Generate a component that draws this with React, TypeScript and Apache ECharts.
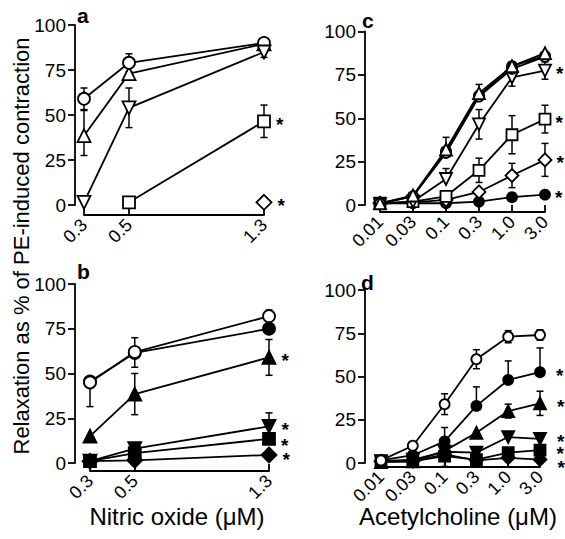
import React, { useEffect, useRef } from 'react';
import * as echarts from 'echarts';

const FONT = '"Liberation Sans", Arial, Helvetica, sans-serif';

// ---------- x categories ----------
const noLabels = ['0.3', '0.5', '1.3'];
const noPositions = [0, 1, 4]; // spacing of the concentrations on the original axis
const achLabels = ['0.01', '0.03', '0.1', '0.3', '1.0', '3.0'];
const achPositions = [0, 1, 2, 3, 4, 5];
const yTickValues = [0, 25, 50, 75, 100];

// ---------- panel a (nitric oxide) ----------
const aOpenCircle = [59, 79, 90];
const aOpenCircleUp = [6, 5, 0];
const aOpenCircleDn = [6, 5, 0];
const aOpenTri = [38.5, 73, 89.5];
const aOpenTriUp = [14, 0, 0];
const aOpenTriDn = [11, 0, 0];
const aOpenInvTri = [1.5, 54, 85];
const aOpenInvTriUp = [0, 11, 3];
const aOpenInvTriDn = [0, 11, 3];
const aOpenSquare = [null, 1.5, 46.5];
const aOpenSquareUp = [0, 0, 9];
const aOpenSquareDn = [0, 0, 9];
const aOpenDiamond = [null, null, 1.5];

// ---------- panel b (nitric oxide) ----------
const bOpenCircle = [45, 62, 82];
const bOpenCircleUp = [0, 8, 3.5];
const bOpenCircleDn = [13.5, 0, 0];
const bFilledCircle = [45.5, 61.5, 75];
const bFilledCircleUp = [0, 0, 0];
const bFilledCircleDn = [0, 8, 0];
const bFilledTri = [15, 38.5, 59];
const bFilledTriUp = [0, 11.5, 10];
const bFilledTriDn = [0, 11.5, 10];
const bFilledInvTri = [1, 8, 20.5];
const bFilledInvTriUp = [0, 0, 7.5];
const bFilledSquare = [1, 5.5, 13.5];
const bFilledDiamond = [1, 1.5, 4.5];

// ---------- panel c (acetylcholine) ----------
const cFilledCircleTop = [1, 5, 31, 63, 80, 86];
const cOpenCircle = [1, 5, 30, 62.5, 78.5, 85.5];
const cOpenCircleUp = [0, 0, 9, 7, 4, 0];
const cOpenTri = [1, 5.5, 32, 64.5, 80, 87.5];
const cOpenInvTri = [0.5, 2, 15, 46.5, 73.5, 77.5];
const cOpenInvTriUp = [0, 0, 6, 8.5, 5, 5];
const cOpenInvTriDn = [0, 0, 0, 8.5, 5, 5];
const cOpenSquare = [1, 2, 5, 20, 40.5, 49.5];
const cOpenSquareUp = [0, 0, 0, 7, 11, 8];
const cOpenSquareDn = [0, 0, 0, 7, 11, 8];
const cOpenDiamond = [1, 1.5, 3, 7.5, 17, 26];
const cOpenDiamondUp = [0, 0, 0, 0, 7, 9.5];
const cOpenDiamondDn = [0, 0, 0, 0, 7, 9.5];
const cFilledCircleLow = [1, 1, 1, 2, 4.5, 6];

// ---------- panel d (acetylcholine) ----------
const dOpenCircle = [1.5, 10, 34, 60, 73, 74];
const dOpenCircleUp = [0, 0, 6, 5.5, 3.5, 3];
const dOpenCircleDn = [0, 0, 6, 5.5, 3.5, 3];
const dFilledCircle = [1.5, 4.5, 12.5, 33, 48, 52.5];
const dFilledCircleUp = [0, 0, 8, 11, 11, 14];
const dFilledTri = [0.5, 1, 7, 17.5, 30, 34.5];
const dFilledTriUp = [0, 0, 0, 0, 4, 7];
const dFilledTriDn = [0, 0, 0, 0, 4, 7];
const dFilledInvTri = [1, 2, 6.5, 6, 15, 14];
const dFilledSquare = [1, 1, 4, 2, 6, 7.5];
const dFilledSquareDn = [0, 0, 0, 0, 4, 0];
const dFilledDiamond = [1, 1, 5, 1.5, 3, 2];
const dFilledDiamondDn = [0, 0, 7, 0, 0, 0];

type Sym = 'circle' | 'triangle' | 'invtri' | 'rect' | 'diamond';
interface SeriesDef {
  name: string;
  symbol: Sym;
  filled: boolean;
  values: (number | null)[];
  up?: number[];
  dn?: number[];
  star?: boolean;
  starDy?: number;
}

const panelA: SeriesDef[] = [
  { name: 'a-square', symbol: 'rect', filled: false, values: aOpenSquare, up: aOpenSquareUp, dn: aOpenSquareDn, star: true },
  { name: 'a-diamond', symbol: 'diamond', filled: false, values: aOpenDiamond, star: true },
  { name: 'a-tri', symbol: 'triangle', filled: false, values: aOpenTri, up: aOpenTriUp, dn: aOpenTriDn },
  { name: 'a-circle', symbol: 'circle', filled: false, values: aOpenCircle, up: aOpenCircleUp, dn: aOpenCircleDn },
  { name: 'a-invtri', symbol: 'invtri', filled: false, values: aOpenInvTri, up: aOpenInvTriUp, dn: aOpenInvTriDn },
];
const panelB: SeriesDef[] = [
  { name: 'b-diamond', symbol: 'diamond', filled: true, values: bFilledDiamond, star: true, starDy: 2 },
  { name: 'b-square', symbol: 'rect', filled: true, values: bFilledSquare, star: true, starDy: 4 },
  { name: 'b-invtri', symbol: 'invtri', filled: true, values: bFilledInvTri, up: bFilledInvTriUp, star: true },
  { name: 'b-tri', symbol: 'triangle', filled: true, values: bFilledTri, up: bFilledTriUp, dn: bFilledTriDn, star: true },
  { name: 'b-fcircle', symbol: 'circle', filled: true, values: bFilledCircle, up: bFilledCircleUp, dn: bFilledCircleDn },
  { name: 'b-circle', symbol: 'circle', filled: false, values: bOpenCircle, up: bOpenCircleUp, dn: bOpenCircleDn },
];
const panelC: SeriesDef[] = [
  { name: 'c-fcircle-low', symbol: 'circle', filled: true, values: cFilledCircleLow, star: true },
  { name: 'c-diamond', symbol: 'diamond', filled: false, values: cOpenDiamond, up: cOpenDiamondUp, dn: cOpenDiamondDn, star: true },
  { name: 'c-square', symbol: 'rect', filled: false, values: cOpenSquare, up: cOpenSquareUp, dn: cOpenSquareDn, star: true },
  { name: 'c-invtri', symbol: 'invtri', filled: false, values: cOpenInvTri, up: cOpenInvTriUp, dn: cOpenInvTriDn, star: true },
  { name: 'c-fcircle-top', symbol: 'circle', filled: true, values: cFilledCircleTop },
  { name: 'c-circle', symbol: 'circle', filled: false, values: cOpenCircle, up: cOpenCircleUp },
  { name: 'c-tri', symbol: 'triangle', filled: false, values: cOpenTri },
];
const panelD: SeriesDef[] = [
  { name: 'd-diamond', symbol: 'diamond', filled: true, values: dFilledDiamond, dn: dFilledDiamondDn, star: true, starDy: 5 },
  { name: 'd-square', symbol: 'rect', filled: true, values: dFilledSquare, dn: dFilledSquareDn, star: true },
  { name: 'd-invtri', symbol: 'invtri', filled: true, values: dFilledInvTri, star: true },
  { name: 'd-tri', symbol: 'triangle', filled: true, values: dFilledTri, up: dFilledTriUp, dn: dFilledTriDn, star: true },
  { name: 'd-fcircle', symbol: 'circle', filled: true, values: dFilledCircle, up: dFilledCircleUp, star: true },
  { name: 'd-circle', symbol: 'circle', filled: false, values: dOpenCircle, up: dOpenCircleUp, dn: dOpenCircleDn },
];

interface PanelLayout {
  left: number; top: number; width: number; height: number;
  yOffset: number; xOffset: number;
  xMax: number; positions: number[]; labels: string[];
  sizes: Record<Sym, number>; starGap: number;
}

const bigSizes: Record<Sym, number> = { circle: 12, triangle: 13, invtri: 13, rect: 12, diamond: 15 };
const smallSizes: Record<Sym, number> = { circle: 10, triangle: 12, invtri: 12, rect: 11, diamond: 13 };

const layouts: PanelLayout[] = [
  { left: 84, top: 25, width: 180, height: 180, yOffset: 9, xOffset: 10, xMax: 4, positions: noPositions, labels: noLabels, sizes: bigSizes, starGap: 5 },
  { left: 90, top: 284, width: 179, height: 179, yOffset: 15, xOffset: 8, xMax: 4, positions: noPositions, labels: noLabels, sizes: bigSizes, starGap: 5 },
  { left: 380, top: 31.5, width: 165, height: 173.5, yOffset: 15, xOffset: 7, xMax: 5, positions: achPositions, labels: achLabels, sizes: smallSizes, starGap: 4 },
  { left: 381, top: 290, width: 159, height: 173, yOffset: 16, xOffset: 4, xMax: 5, positions: achPositions, labels: achLabels, sizes: smallSizes, starGap: 10 },
];
const panels = [panelA, panelB, panelC, panelD];

function buildSeries(p: number) {
  const L = layouts[p];
  const out: any[] = [];
  const errData: number[][] = [];
  panels[p].forEach((s, k) => {
    const pts: any[] = [];
    s.values.forEach((v, i) => {
      if (v === null || v === undefined) return;
      const up = s.up ? s.up[i] : 0;
      const dn = s.dn ? s.dn[i] : 0;
      if (up > 0 || dn > 0) errData.push([L.positions[i], v, up, dn]);
      const isLast = i === s.values.length - 1;
      if (isLast && s.star) {
        pts.push({
          value: [L.positions[i], v],
          label: {
            show: true, formatter: '*', position: 'right', distance: L.starGap,
            offset: [0, 3 + (s.starDy || 0)],
            fontSize: 19, fontWeight: 'bold', lineHeight: 11, color: '#000', fontFamily: FONT,
          },
        });
      } else {
        pts.push([L.positions[i], v]);
      }
    });
    const size = L.sizes[s.symbol];
    out.push({
      type: 'line',
      name: s.name,
      xAxisIndex: p,
      yAxisIndex: p,
      data: pts,
      symbol: s.symbol === 'invtri' ? 'triangle' : s.symbol,
      symbolRotate: s.symbol === 'invtri' ? 180 : 0,
      symbolSize: size,
      showSymbol: true,
      showAllSymbol: true,
      clip: false,
      z: 3 + k,
      lineStyle: { color: '#000', width: 1.8 },
      itemStyle: { color: s.filled ? '#000' : '#fff', borderColor: '#000', borderWidth: 1.8 },
      emphasis: { disabled: true },
      label: { show: false },
    });
  });
  out.unshift({
    type: 'custom',
    xAxisIndex: p,
    yAxisIndex: p,
    data: errData,
    encode: { x: 0, y: 1 },
    clip: false,
    z: 2,
    silent: true,
    renderItem: (params: any, api: any) => {
      const x = api.value(0);
      const y = api.value(1);
      const up = api.value(2);
      const dn = api.value(3);
      const c = api.coord([x, y]);
      const style = { stroke: '#000', lineWidth: 1.5 };
      const children: any[] = [];
      const cap = 3.5;
      if (up > 0) {
        const t = api.coord([x, y + up]);
        children.push({ type: 'line', shape: { x1: c[0], y1: c[1], x2: t[0], y2: t[1] }, style });
        children.push({ type: 'line', shape: { x1: t[0] - cap, y1: t[1], x2: t[0] + cap, y2: t[1] }, style });
      }
      if (dn > 0) {
        const b = api.coord([x, y - dn]);
        children.push({ type: 'line', shape: { x1: c[0], y1: c[1], x2: b[0], y2: b[1] }, style });
        children.push({ type: 'line', shape: { x1: b[0] - cap, y1: b[1], x2: b[0] + cap, y2: b[1] }, style });
      }
      return { type: 'group', children };
    },
  });
  return out;
}

const axisLineStyle = { color: '#000', width: 1.8 };

export default function App() {
  const ref = useRef<HTMLDivElement>(null);
  useEffect(() => {
    if (!ref.current) return;
    const chart = echarts.init(ref.current, undefined, { renderer: 'svg' });
    const grids = layouts.map((L) => ({
      left: L.left, top: L.top, width: L.width, height: L.height,
      containLabel: false, outerBoundsMode: 'none',
    }));
    const xAxes = layouts.map((L, p) => ({
      type: 'value',
      gridIndex: p,
      min: 0,
      max: L.xMax,
      interval: 1,
      offset: L.xOffset,
      axisLine: { show: true, onZero: false, lineStyle: axisLineStyle },
      axisTick: { show: true, inside: true, length: 7, lineStyle: axisLineStyle, customValues: L.positions },
      axisLabel: {
        show: true, rotate: 45, margin: 7, fontSize: 18, color: '#000', fontFamily: FONT,
        customValues: L.positions,
        formatter: (v: number) => {
          const idx = L.positions.indexOf(v);
          return idx >= 0 ? L.labels[idx] : '';
        },
      },
      splitLine: { show: false },
    }));
    const yAxes = layouts.map((L, p) => ({
      type: 'value',
      gridIndex: p,
      min: 0,
      max: 100,
      interval: 25,
      offset: L.yOffset,
      axisLine: { show: true, onZero: false, lineStyle: axisLineStyle },
      axisTick: { show: true, inside: false, length: 7, lineStyle: axisLineStyle },
      axisLabel: {
        show: true, margin: 9, fontSize: 19, color: '#000', fontFamily: FONT,
        formatter: (v: number) => (yTickValues.indexOf(v) >= 0 ? String(v) : ''),
      },
      splitLine: { show: false },
    }));
    const series: any[] = [];
    for (let p = 0; p < 4; p++) series.push(...buildSeries(p));

    const letter = (t: string, x: number, y: number) => ({
      type: 'text',
      style: { text: t, x, y, fontSize: 21, fontWeight: 'bold', fontFamily: FONT, fill: '#000', align: 'left', verticalAlign: 'middle' },
    });

    chart.setOption({
      animation: false,
      backgroundColor: '#fff',
      grid: grids,
      xAxis: xAxes,
      yAxis: yAxes,
      series,
      graphic: [
        letter('a', 77, 15),
        letter('b', 77, 271),
        letter('c', 362, 20),
        letter('d', 361, 282),
        {
          type: 'text',
          x: 21, y: 246, rotation: Math.PI / 2,
          style: { text: 'Relaxation as % of PE-induced contraction', x: 0, y: 0, fontSize: 22, fontFamily: FONT, fill: '#000', align: 'center', verticalAlign: 'middle' },
        },
        {
          type: 'text',
          style: { text: 'Nitric oxide (μM)', x: 177, y: 516, fontSize: 24, fontFamily: FONT, fill: '#000', align: 'center', verticalAlign: 'middle' },
        },
        {
          type: 'text',
          style: { text: 'Acetylcholine (μM)', x: 458, y: 516, fontSize: 24, fontFamily: FONT, fill: '#000', align: 'center', verticalAlign: 'middle' },
        },
      ],
    });
    return () => chart.dispose();
  }, []);
  return <div ref={ref} style={{ position: 'fixed', left: 0, top: 0, width: 565, height: 539 }} />;
}
